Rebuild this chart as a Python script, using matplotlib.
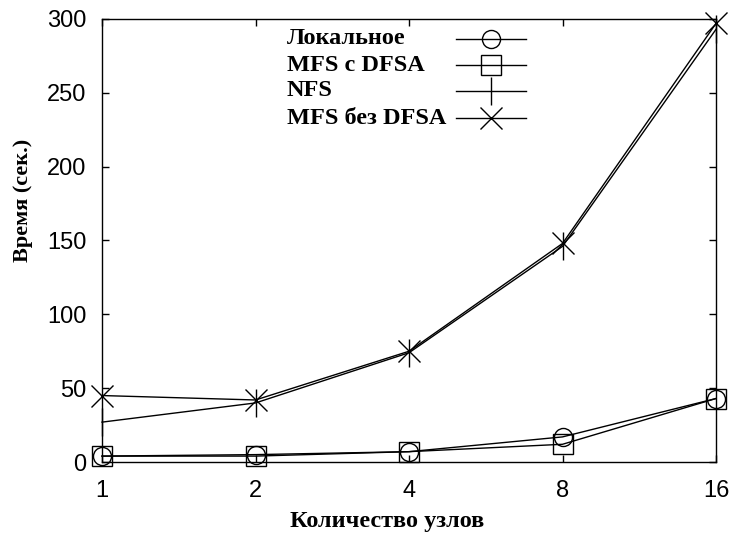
import matplotlib
matplotlib.use("Agg")
import matplotlib.pyplot as plt
from matplotlib.lines import Line2D
from matplotlib.ticker import FixedLocator, FixedFormatter, NullLocator

nodes = [1, 2, 4, 8, 16]
local = [4, 5, 7, 17, 43]
mfs_dfsa = [4, 4, 7, 12, 43]
nfs = [27, 40, 74, 146, 293]
mfs_no_dfsa = [45, 42, 75, 148, 297]

labels = ["Локальное", "MFS с DFSA", "NFS", "MFS без DFSA"]
x_ticks = [1, 2, 4, 8, 16]
y_ticks = [0, 50, 100, 150, 200, 250, 300]

styles = [
    dict(marker="o", ms=13, mfc="none", mew=1.0),
    dict(marker="s", ms=14, mfc="none", mew=1.0),
    dict(marker="|", ms=20, mew=1.0),
    dict(marker="x", ms=16, mew=1.0),
]
series = [local, mfs_dfsa, nfs, mfs_no_dfsa]

fig = plt.figure(figsize=(7.43, 5.33), dpi=100)
ax = fig.add_axes([0.1373, 0.1332, 0.8264, 0.8312])

for ys, st, lab in zip(series, styles, labels):
    ax.plot(nodes, ys, color="black", lw=1.0, clip_on=False, label=lab, **st)

ax.set_xscale("log", base=2)
ax.set_xlim(1, 16)
ax.set_ylim(0, 300)
ax.xaxis.set_major_locator(FixedLocator(x_ticks))
ax.xaxis.set_major_formatter(FixedFormatter([str(v) for v in x_ticks]))
ax.xaxis.set_minor_locator(NullLocator())
ax.set_yticks(y_ticks)

for s in ax.spines.values():
    s.set_linewidth(1.0)
    s.set_color("black")

ax.tick_params(direction="in", length=5, width=1, top=True, right=True, labelsize=17)
ax.tick_params(axis="x", pad=13)
ax.tick_params(axis="y", pad=11)
for lab in ax.get_xticklabels() + ax.get_yticklabels():
    lab.set_fontfamily("Liberation Sans")

ax.set_xlabel("Количество узлов", family="Liberation Serif", weight="bold", size=17.5)
ax.xaxis.set_label_coords(0.465, -0.11)
ax.set_ylabel("Время (сек.)", family="Liberation Serif", weight="bold", size=16)
ax.yaxis.set_label_coords(-0.112, 0.59)

# legend drawn gnuplot-style: text left-aligned, sample line on the right
leg_text_x = 0.301
leg_line_x0, leg_line_x1 = 0.576, 0.691
leg_rows = [0.955, 0.896, 0.838, 0.776]
for lab, st, yy in zip(labels, styles, leg_rows):
    ax.text(leg_text_x, yy, lab, transform=ax.transAxes, ha="left", va="center",
            family="Liberation Serif", weight="bold", size=17.5)
    ax.add_line(Line2D([leg_line_x0, leg_line_x1], [yy, yy], transform=ax.transAxes,
                       color="black", lw=1.0, clip_on=False))
    ax.add_line(Line2D([(leg_line_x0 + leg_line_x1) / 2], [yy], transform=ax.transAxes,
                       color="black", lw=0, clip_on=False, **st))

fig.savefig("out.png", dpi=100)
